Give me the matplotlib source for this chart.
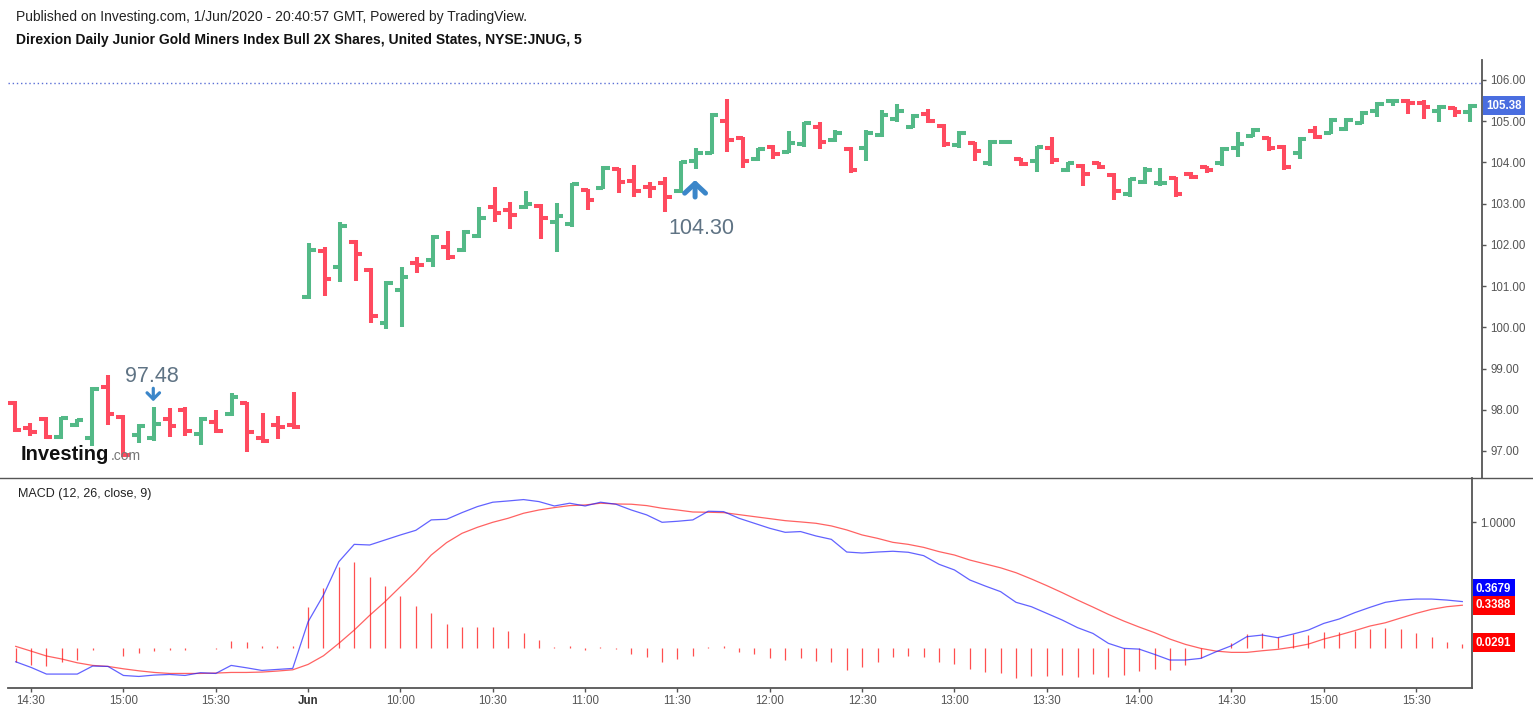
#!/usr/bin/env python3
"""Redraw the JNUG 5-minute OHLC chart with its MACD pane."""

from __future__ import annotations

import matplotlib

matplotlib.use("Agg")
import matplotlib.pyplot as plt
import numpy as np
import pandas as pd
from matplotlib.lines import Line2D
from matplotlib.ticker import FormatStrFormatter
from matplotlib.transforms import offset_copy

plt.rcParams["font.family"] = ["Liberation Sans", "DejaVu Sans"]

# two trading sessions of 5-minute bars (end of 29 May, then 1 June)
sessions = [("2020-05-29 14:25", "2020-05-29 15:55"), ("2020-06-01 09:30", "2020-06-01 15:45")]

opens = [
    98.16, 97.55, 97.77, 97.33, 97.63, 97.31, 98.55, 97.82, 97.38, 97.31,
    97.77, 97.99, 97.41, 97.70, 97.89, 98.16, 97.31, 97.63, 97.63,
    100.73, 101.85, 101.46, 102.07, 101.39, 100.10, 100.90, 101.56, 101.63, 101.95,
    101.87, 102.21, 102.92, 102.84, 102.92, 102.94, 102.55, 102.50, 103.33, 103.38,
    103.84, 103.55, 103.40, 103.50, 103.31, 104.03, 104.23, 105.00, 104.59, 104.08,
    104.37, 104.25, 104.45, 104.86, 104.54, 104.33, 104.35, 104.67, 105.05, 104.86,
    105.17, 104.88, 104.42, 104.47, 103.99, 104.49, 104.08, 104.03, 104.35, 103.82,
    103.91, 103.99, 103.69, 103.23, 103.52, 103.50, 103.62, 103.72, 103.89, 103.99,
    104.35, 104.64, 104.59, 104.37, 104.23, 104.76, 104.71, 104.81, 104.96, 105.25,
    105.49, 105.49, 105.44, 105.25, 105.32, 105.22,
]
highs = [
    98.21, 97.67, 97.82, 97.82, 97.77, 98.55, 98.84, 97.87, 97.65, 98.06,
    98.04, 98.06, 97.82, 97.99, 98.40, 98.18, 97.92, 97.84, 98.43,
    102.04, 101.95, 102.55, 102.12, 101.44, 101.12, 101.46, 101.70, 102.24, 102.33,
    102.36, 102.92, 103.40, 103.04, 103.31, 102.99, 103.01, 103.50, 103.35, 103.91,
    103.86, 103.94, 103.52, 103.65, 104.03, 104.35, 105.20, 105.54, 104.62, 104.35,
    104.42, 104.76, 104.98, 104.98, 104.79, 104.37, 104.79, 105.27, 105.42, 105.17,
    105.30, 104.93, 104.76, 104.50, 104.54, 104.52, 104.11, 104.40, 104.62, 104.01,
    103.96, 104.01, 103.74, 103.62, 103.89, 103.86, 103.65, 103.77, 103.91, 104.37,
    104.74, 104.83, 104.62, 104.42, 104.62, 104.88, 105.08, 105.08, 105.25, 105.47,
    105.54, 105.54, 105.51, 105.39, 105.34, 105.42,
]
lows = [
    97.46, 97.36, 97.29, 97.29, 97.58, 97.12, 97.63, 96.85, 97.19, 97.24,
    97.33, 97.36, 97.14, 97.43, 97.84, 96.97, 97.19, 97.29, 97.53,
    100.68, 100.76, 101.10, 101.12, 100.10, 99.96, 100.00, 101.32, 101.46, 101.63,
    101.83, 102.17, 102.55, 102.38, 102.87, 102.14, 101.83, 102.43, 102.84, 103.35,
    103.26, 103.16, 103.14, 102.80, 103.26, 103.84, 104.20, 104.25, 103.86, 104.03,
    104.08, 104.23, 104.37, 104.33, 104.50, 103.74, 104.03, 104.62, 104.98, 104.83,
    104.96, 104.37, 104.35, 104.03, 103.91, 104.47, 103.91, 103.77, 103.96, 103.77,
    103.43, 103.84, 103.09, 103.16, 103.48, 103.43, 103.16, 103.60, 103.74, 103.91,
    104.13, 104.62, 104.28, 103.82, 104.08, 104.57, 104.69, 104.76, 104.93, 105.10,
    105.37, 105.17, 105.05, 104.98, 105.10, 104.98,
]
closes = [
    97.50, 97.46, 97.33, 97.80, 97.75, 98.50, 97.89, 96.90, 97.60, 97.65,
    97.60, 97.48, 97.77, 97.48, 98.31, 97.46, 97.24, 97.58, 97.58,
    101.87, 101.17, 102.46, 101.78, 100.27, 101.07, 101.22, 101.51, 102.19, 101.70,
    102.31, 102.65, 102.77, 102.72, 102.99, 102.65, 102.70, 103.48, 103.09, 103.86,
    103.52, 103.31, 103.38, 103.16, 104.01, 104.23, 105.15, 104.54, 104.03, 104.33,
    104.20, 104.47, 104.96, 104.50, 104.71, 103.82, 104.71, 105.15, 105.25, 105.13,
    105.00, 104.45, 104.71, 104.28, 104.50, 104.50, 103.96, 104.37, 104.06, 103.99,
    103.72, 103.89, 103.31, 103.60, 103.82, 103.51, 103.23, 103.65, 103.82, 104.33,
    104.45, 104.79, 104.35, 103.89, 104.57, 104.62, 105.03, 105.03, 105.20, 105.42,
    105.50, 105.44, 105.34, 105.34, 105.22, 105.38,
]

macd_line = [
    -0.112, -0.157, -0.210, -0.210, -0.210, -0.146, -0.149, -0.221, -0.229, -0.218,
    -0.213, -0.221, -0.199, -0.205, -0.141, -0.160, -0.181, -0.173, -0.165,
    0.207, 0.420, 0.686, 0.824, 0.819, 0.859, 0.899, 0.936, 1.019, 1.024,
    1.077, 1.125, 1.160, 1.170, 1.181, 1.165, 1.130, 1.152, 1.130, 1.160,
    1.144, 1.098, 1.059, 1.000, 1.008, 1.019, 1.088, 1.085, 1.032, 0.992,
    0.952, 0.920, 0.926, 0.891, 0.864, 0.763, 0.755, 0.763, 0.769, 0.761,
    0.734, 0.665, 0.620, 0.540, 0.492, 0.447, 0.362, 0.327, 0.274, 0.221,
    0.160, 0.114, 0.035, -0.005, -0.011, -0.053, -0.098, -0.098, -0.085, -0.032,
    0.016, 0.088, 0.101, 0.080, 0.109, 0.141, 0.194, 0.229, 0.279, 0.322,
    0.362, 0.380, 0.388, 0.388, 0.380, 0.3679,
]
signal_line = [
    0.011, -0.027, -0.066, -0.090, -0.120, -0.141, -0.149, -0.168, -0.184, -0.197,
    -0.205, -0.205, -0.205, -0.202, -0.197, -0.197, -0.194, -0.186, -0.176,
    -0.133, -0.064, 0.035, 0.141, 0.258, 0.367, 0.487, 0.606, 0.739, 0.838,
    0.912, 0.960, 1.000, 1.032, 1.072, 1.098, 1.117, 1.133, 1.138, 1.152,
    1.146, 1.144, 1.133, 1.112, 1.098, 1.082, 1.080, 1.077, 1.061, 1.045,
    1.029, 1.013, 1.003, 0.992, 0.971, 0.939, 0.899, 0.872, 0.840, 0.824,
    0.800, 0.766, 0.739, 0.699, 0.668, 0.637, 0.598, 0.548, 0.495, 0.439,
    0.380, 0.324, 0.266, 0.213, 0.165, 0.120, 0.069, 0.027, -0.005, -0.027,
    -0.037, -0.037, -0.024, -0.013, 0.005, 0.029, 0.069, 0.101, 0.136, 0.173,
    0.199, 0.237, 0.274, 0.306, 0.327, 0.3388,
]
macd_hist = [
    -0.112, -0.138, -0.144, -0.112, -0.098, -0.019, 0.000, -0.064, -0.043, -0.027,
    -0.019, -0.019, 0.000, -0.010, 0.053, 0.048, 0.016, 0.016, 0.016,
    0.327, 0.479, 0.646, 0.686, 0.566, 0.492, 0.412, 0.332, 0.279, 0.189,
    0.168, 0.168, 0.168, 0.133, 0.114, 0.061, 0.008, 0.016, -0.016, 0.008,
    -0.010, -0.048, -0.072, -0.112, -0.088, -0.064, 0.008, 0.016, -0.032, -0.048,
    -0.080, -0.096, -0.080, -0.104, -0.112, -0.176, -0.152, -0.112, -0.072, -0.064,
    -0.072, -0.112, -0.128, -0.168, -0.191, -0.199, -0.239, -0.223, -0.223, -0.215,
    -0.231, -0.207, -0.231, -0.215, -0.184, -0.168, -0.176, -0.136, -0.080, -0.005,
    0.040, 0.106, 0.114, 0.082, 0.106, 0.101, 0.122, 0.122, 0.136, 0.149,
    0.160, 0.149, 0.114, 0.088, 0.043, 0.0291,
]

price_ticks = [97, 98, 99, 100, 101, 102, 103, 104, 105, 106]
macd_ticks = [1.0]
ref_level = 105.93
# (bar index, label) of the two price markers drawn on the chart
marker_down = (9, "97.48")
marker_up = (44, "104.30")

title_line = "Published on Investing.com, 1/Jun/2020 - 20:40:57 GMT, Powered by TradingView."
symbol_line = "Direxion Daily Junior Gold Miners Index Bull 2X Shares, United States, NYSE:JNUG, 5"
macd_title = "MACD (12, 26, close, 9)"

W, H = 1533, 712
GREEN = "#53b987"
RED = "#ff4a5f"
AXIS = "#555555"
MARK = "#3b86c9"


def frame(left: float, top: float, right: float, bottom: float) -> list[float]:
    return [left / W, 1 - bottom / H, (right - left) / W, (bottom - top) / H]


def draw_price(fig, ax, x) -> None:
    o, h, l, c = (np.asarray(v) for v in (opens, highs, lows, closes))
    colors = np.where(c >= o, GREEN, RED)
    lw = 2.9
    ax.vlines(x, l, h, colors=colors, linewidth=lw, capstyle="butt")
    ax.hlines(o, x - 0.45, x, colors=colors, linewidth=lw, capstyle="butt")
    ax.hlines(c, x, x + 0.42, colors=colors, linewidth=lw, capstyle="butt")

    ax.axhline(ref_level, color="#5a6fd6", linewidth=1, linestyle=(0, (1, 2)))

    ax.set_xlim(-0.45, 94.77)
    ax.set_ylim(96.345, 106.485)
    ax.set_xticks([])
    ax.yaxis.tick_right()
    ax.set_yticks(price_ticks)
    ax.yaxis.set_major_formatter(FormatStrFormatter("%.2f"))
    ax.tick_params(axis="y", direction="out", length=3, width=1, colors=AXIS, labelsize=8.3, pad=3)
    for side in ("top", "left", "bottom"):
        ax.spines[side].set_visible(False)
    ax.spines["right"].set_color(AXIS)
    ax.spines["right"].set_linewidth(1.3)

    ax.annotate(
        f"{closes[-1]:.2f}", xy=(1, closes[-1]), xycoords=("axes fraction", "data"),
        xytext=(4, 0), textcoords="offset pixels", ha="left", va="center",
        color="white", fontweight="bold", fontsize=8.3,
        bbox=dict(boxstyle="square,pad=0.3", fc="#4a6ee0", ec="none"),
    )

    # sell / buy style markers
    i, text = marker_down
    tip = offset_copy(ax.transData, fig=fig, x=-1, y=6, units="dots")
    ax.annotate("", xy=(i, highs[i]), xycoords=tip, xytext=(0, 13), textcoords="offset pixels",
                arrowprops=dict(arrowstyle="->,head_length=0.45,head_width=0.45", color=MARK,
                                lw=2.3, shrinkA=0, shrinkB=0))
    ax.annotate(text, xy=(i, highs[i]), xytext=(-2, 31), textcoords="offset pixels",
                ha="center", va="center", fontsize=15.5, color="#5f7384")

    i, text = marker_up
    tip = offset_copy(ax.transData, fig=fig, x=-1, y=-11, units="dots")
    ax.annotate("", xy=(i, lows[i]), xycoords=tip, xytext=(0, -17), textcoords="offset pixels",
                arrowprops=dict(arrowstyle="->,head_length=0.7,head_width=0.75", color=MARK,
                                lw=3.6, shrinkA=0, shrinkB=0))
    ax.annotate(text, xy=(i, lows[i]), xytext=(5, -59), textcoords="offset pixels",
                ha="center", va="center", fontsize=15.5, color="#5f7384")


def value_tag(ax, value: float, color: str, dy: float = 0) -> None:
    ax.annotate(
        f"{value:.4f}", xy=(1, value), xycoords=("axes fraction", "data"),
        xytext=(4, dy), textcoords="offset pixels", ha="left", va="center",
        color="white", fontweight="bold", fontsize=8.3,
        bbox=dict(boxstyle="square,pad=0.3", fc=color, ec="none"),
    )


def draw_macd(ax, x, times) -> None:
    ax.vlines(x, 0, macd_hist, colors="#ff3030", linewidth=0.9, alpha=0.85)
    ax.plot(x, signal_line, color="#ff2020", linewidth=0.9, alpha=0.7)
    ax.plot(x, macd_line, color="#2020ff", linewidth=0.9, alpha=0.7)

    ax.set_xlim(-0.5, 94.63)
    ax.set_ylim(-0.321, 1.353)
    ax.yaxis.tick_right()
    ax.set_yticks(macd_ticks)
    ax.yaxis.set_major_formatter(FormatStrFormatter("%.4f"))
    ax.tick_params(axis="y", direction="out", length=3, width=1, colors=AXIS, labelsize=8.3, pad=3)

    tick_pos, tick_lab = [], []
    for idx, ts in enumerate(times):
        if ts.minute % 30:
            continue
        tick_pos.append(idx)
        new_day = idx > 0 and ts.date() != times[idx - 1].date()
        tick_lab.append(ts.strftime("%b") if new_day else ts.strftime("%H:%M"))
    ax.set_xticks(tick_pos)
    ax.set_xticklabels(tick_lab)
    ax.tick_params(axis="x", direction="out", length=3, width=1, colors=AXIS, labelsize=8.3, pad=2)
    for label in ax.get_xticklabels():
        if not label.get_text()[0].isdigit():
            label.set_fontweight("bold")
            label.set_color("#333333")

    for side in ("top", "left"):
        ax.spines[side].set_visible(False)
    for side in ("right", "bottom"):
        ax.spines[side].set_color(AXIS)
        ax.spines[side].set_linewidth(1.3)

    value_tag(ax, macd_line[-1], "#0000ff", dy=13)
    value_tag(ax, signal_line[-1], "#ff0000")
    value_tag(ax, macd_hist[-1], "#ff0000", dy=1.5)
    ax.text(0.0068, 0.925, macd_title, transform=ax.transAxes,
            fontsize=9, color="#222222", va="center", ha="left")


def main() -> int:
    times = pd.DatetimeIndex(np.concatenate([pd.date_range(a, b, freq="5min").values for a, b in sessions]))
    x = np.arange(len(times))

    fig = plt.figure(figsize=(W / 100, H / 100), dpi=100)
    ax_price = fig.add_axes(frame(8, 60, 1482, 478))
    ax_macd = fig.add_axes(frame(8, 478, 1472, 688))

    draw_price(fig, ax_price, x)
    draw_macd(ax_macd, x, times)

    fig.add_artist(Line2D([0, 1], [1 - 478 / H] * 2, transform=fig.transFigure, color=AXIS, linewidth=1))
    fig.text(16 / W, 1 - 17 / H, title_line, fontsize=10, color="#222222", va="center")
    fig.text(16 / W, 1 - 40 / H, symbol_line, fontsize=10, fontweight="bold", color="#111111", va="center")

    # watermark
    fig.text(21 / W, 1 - 460 / H, "Investing", fontsize=14.5, fontweight="bold", color="#111111", va="baseline")
    fig.text(111 / W, 1 - 460 / H, ".com", fontsize=10, color="#777777", va="baseline")

    fig.savefig("out.png", dpi=100)
    plt.close(fig)
    return 0


if __name__ == "__main__":
    raise SystemExit(main())
